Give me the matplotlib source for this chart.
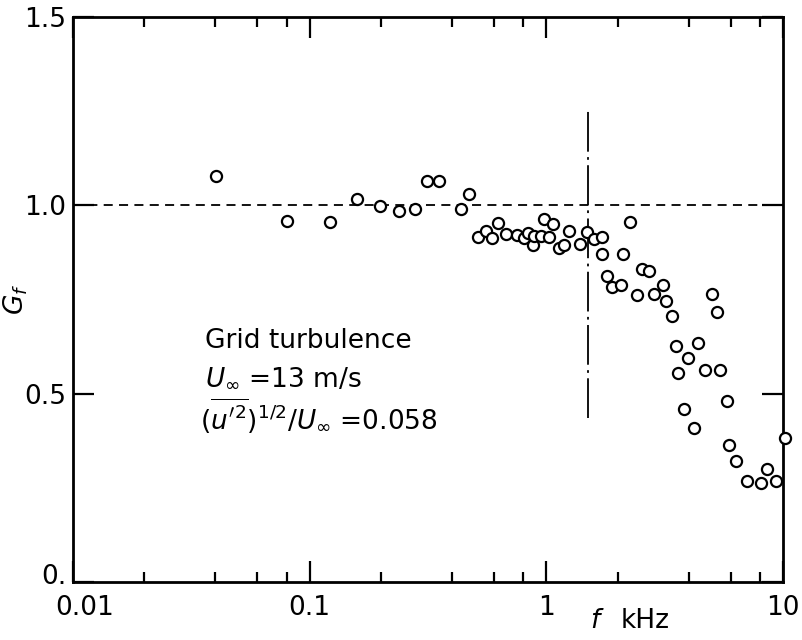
import matplotlib
matplotlib.use('Agg')
import matplotlib.pyplot as plt
from matplotlib.ticker import FixedLocator, NullFormatter
from matplotlib.transforms import ScaledTranslation

plt.rcParams['font.family'] = ['DejaVu Sans']
plt.rcParams['mathtext.fontset'] = 'dejavusans'

# f in kHz, Gf
freq = [0.0402, 0.0802, 0.122, 0.158, 0.198, 0.238, 0.279, 0.313, 0.352, 0.436,
        0.471, 0.514, 0.556, 0.589, 0.625, 0.675, 0.751, 0.804, 0.836, 0.877,
        0.887, 0.949, 0.977, 1.026, 1.067, 1.130, 1.186, 1.246, 1.386, 1.485,
        1.590, 1.718, 1.718, 1.803, 1.893, 2.066, 2.107, 2.256, 2.415, 2.535,
        2.713, 2.849, 3.110, 3.199, 3.395, 3.530, 3.598, 3.811, 3.963, 4.205,
        4.368, 4.677, 5.008, 5.258, 5.411, 5.796, 5.906, 6.325, 7.034, 8.07,
        8.55, 9.33, 10.19]
gf = [1.078, 0.958, 0.956, 1.017, 0.998, 0.985, 0.990, 1.065, 1.065, 0.990,
      1.030, 0.916, 0.932, 0.913, 0.953, 0.924, 0.921, 0.913, 0.926, 0.895,
      0.918, 0.918, 0.964, 0.916, 0.950, 0.887, 0.895, 0.932, 0.897, 0.929,
      0.911, 0.916, 0.871, 0.812, 0.783, 0.788, 0.871, 0.956, 0.762, 0.831,
      0.826, 0.765, 0.788, 0.746, 0.706, 0.626, 0.555, 0.459, 0.595, 0.409,
      0.634, 0.563, 0.765, 0.717, 0.563, 0.480, 0.364, 0.321, 0.268, 0.263,
      0.300, 0.268, 0.382]

f_cut = 1.5
cut_range = [0.435, 1.258]

fig = plt.figure(figsize=(8.03, 6.40), dpi=100)
ax = fig.add_axes([0.0909, 0.0906, 0.8842, 0.8828])

ax.axhline(1.0, color='black', lw=1.3, ls=(0, (5, 3.5)))
ax.plot([f_cut, f_cut], cut_range, color='black', lw=1.3,
        ls=(0, (22, 3, 1.5, 3)))
ax.plot(freq, gf, 'o', mfc='white', mec='black', ms=8, mew=1.6, clip_on=False,
        zorder=3)

ax.set_xscale('log')
ax.set_xlim(0.01, 10)
ax.set_ylim(0, 1.5)

for s in ax.spines.values():
    s.set_linewidth(2)

ax.set_xticks([0.01, 0.1, 1, 10])
ax.set_xticklabels(['0.01', '0.1', '1', '10'])
minors = [m * d for d in [0.01, 0.1, 1] for m in [2, 4, 6, 8]]
ax.xaxis.set_minor_locator(FixedLocator(minors))
ax.xaxis.set_minor_formatter(NullFormatter())
ax.set_yticks([0, 0.5, 1.0, 1.5])
ax.set_yticklabels(['0.', '0.5', '1.0', '1.5'])

ax.tick_params(which='major', direction='in', length=15, width=1.6,
               top=True, right=True, labelsize=19, pad=9)
ax.tick_params(which='minor', direction='in', length=7, width=1.6,
               top=True, right=True)
ax.tick_params(axis='y', which='major', pad=5)

# nudge the corner labels apart like the original
lab = ax.get_xticklabels()[0]
lab.set_transform(lab.get_transform() + ScaledTranslation(0.12, 0, fig.dpi_scale_trans))
lab = ax.get_yticklabels()[0]
lab.set_transform(lab.get_transform() + ScaledTranslation(0, 0.08, fig.dpi_scale_trans))

ax.set_ylabel(r'$G_f$', fontsize=19)
ax.yaxis.set_label_coords(-0.06, 0.5)
ax.text(0.728, -0.046, r'$f$', transform=ax.transAxes, fontsize=19,
        ha='left', va='top')
ax.text(0.772, -0.046, 'kHz', transform=ax.transAxes, fontsize=19,
        ha='left', va='top')

ax.text(0.186, 0.415, 'Grid turbulence', transform=ax.transAxes, fontsize=19)
ax.text(0.186, 0.347, r'$U_\infty$ =13 m/s', transform=ax.transAxes, fontsize=19)
ax.text(0.179, 0.271, r"$(\overline{u'^2})^{1/2}/U_\infty$ =0.058",
        transform=ax.transAxes, fontsize=19)

fig.savefig('out.png', dpi=100)
